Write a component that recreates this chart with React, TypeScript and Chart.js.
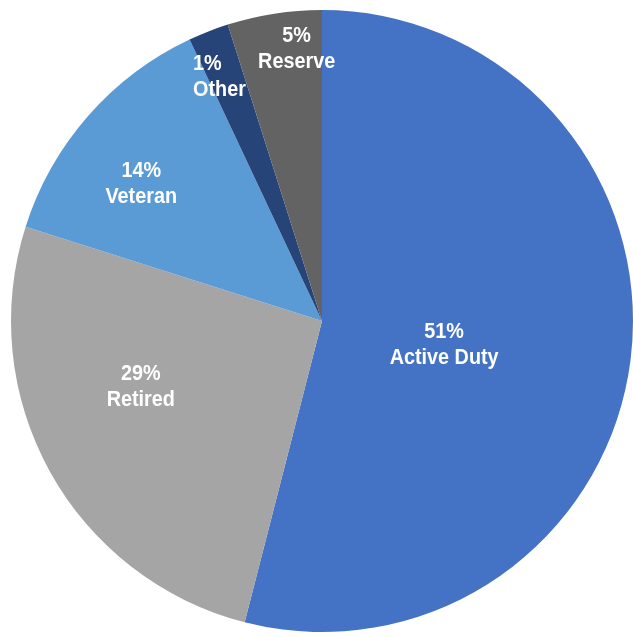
import React, { useEffect, useRef } from "react";
import { Chart, registerables } from "chart.js";

Chart.register(...registerables);

const categories = ["Active Duty", "Retired", "Veteran", "Other", "Reserve"];
const sliceValues = [54.0, 25.9, 13.1, 2.1, 4.9];
const percentLabels = ["51%", "29%", "14%", "1%", "5%"];
const sliceColors = ["#4472C4", "#A5A5A5", "#5B9BD5", "#264478", "#636363"];

// label placement: angle offset (deg) from slice middle, radius fraction, alignment
const labelAngleOffset = [3.8, 9, -4, -1.4, 3.5];
const labelRadiusFrac = [0.4, 0.62, 0.73, 0.85, 0.88];
const labelAlign: string[] = ["center", "center", "center", "left", "center"];

const NARROW = 0.9;

const labelPlugin = {
  id: "sliceLabels",
  afterDatasetsDraw(chart: any) {
    const ctx = chart.ctx;
    const meta = chart.getDatasetMeta(0);
    ctx.save();
    ctx.fillStyle = "#FFFFFF";
    ctx.font = 'bold 22px "Liberation Sans", Arial, sans-serif';
    ctx.textBaseline = "middle";
    const drawLine = (text: string, x: number, y: number, align: string) => {
      ctx.save();
      ctx.translate(x, y);
      ctx.scale(NARROW, 1);
      ctx.textAlign = align;
      ctx.fillText(text, 0, 0);
      ctx.restore();
    };
    meta.data.forEach((arc: any, i: number) => {
      const p = arc.getProps(["x", "y", "startAngle", "endAngle", "outerRadius"], true);
      const mid = (p.startAngle + p.endAngle) / 2 + (labelAngleOffset[i] * Math.PI) / 180;
      const r = p.outerRadius * labelRadiusFrac[i];
      let x = p.x + Math.cos(mid) * r;
      const y = p.y + Math.sin(mid) * r;
      if (labelAlign[i] === "left") {
        const w = ctx.measureText(categories[i]).width * NARROW;
        x = x - w / 2;
      }
      drawLine(percentLabels[i], x, y - 13, labelAlign[i]);
      drawLine(categories[i], x, y + 13, labelAlign[i]);
    });
    ctx.restore();
  },
};

export default function App() {
  const ref = useRef<HTMLCanvasElement>(null);
  useEffect(() => {
    document.body.style.margin = "0";
    const chart = new Chart(ref.current!, {
      type: "pie",
      data: {
        labels: categories,
        datasets: [
          {
            data: sliceValues,
            backgroundColor: sliceColors,
            borderWidth: 0,
          },
        ],
      },
      options: {
        animation: false,
        responsive: false,
        maintainAspectRatio: false,
        layout: { padding: { left: 11, right: 0, top: 10, bottom: 5 } },
        plugins: {
          legend: { display: false },
          tooltip: { enabled: false },
        },
      },
      plugins: [labelPlugin],
    });
    return () => chart.destroy();
  }, []);
  return (
    <div style={{ position: "fixed", left: 0, top: 0, width: 633, height: 637, background: "#fff" }}>
      <canvas ref={ref} width={633} height={637} style={{ width: 633, height: 637 }} />
    </div>
  );
}
